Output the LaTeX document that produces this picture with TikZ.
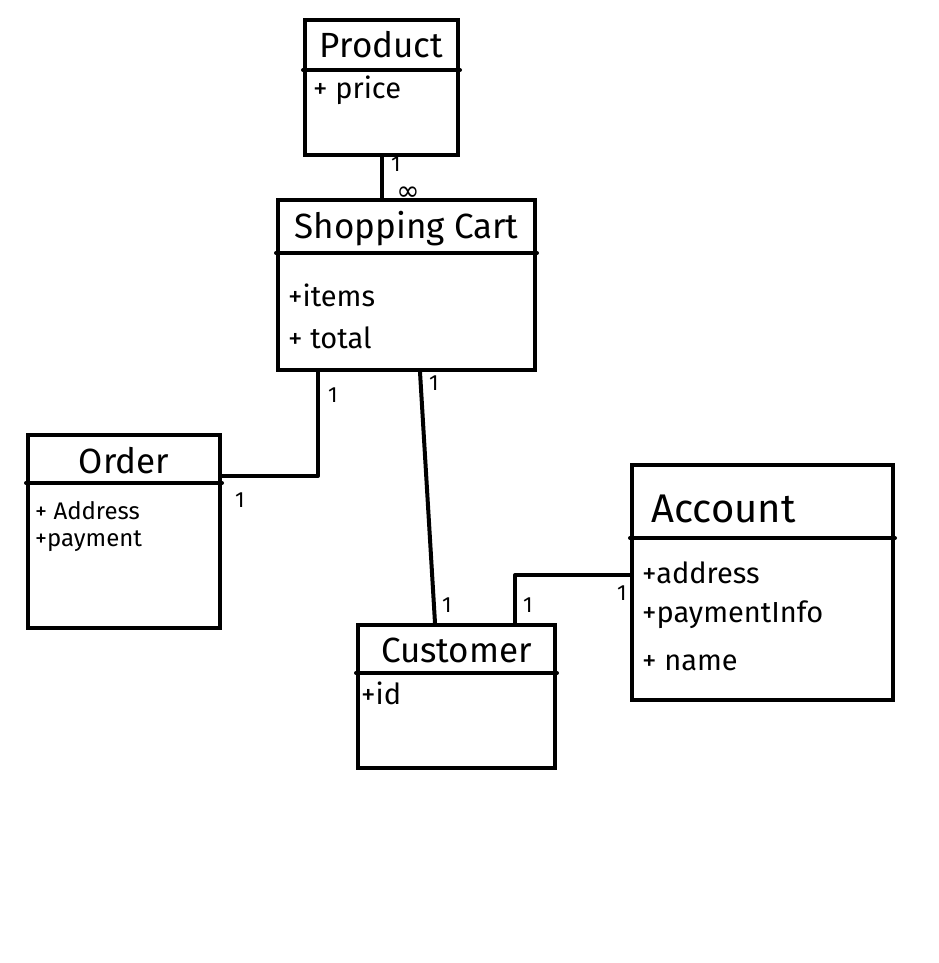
\documentclass[tikz,border=0pt]{standalone}
\usepackage{fontspec}
\setmainfont{Fira Sans}
\newfontfamily\symfont{DejaVu Sans}
\begin{document}
\begin{tikzpicture}[x=1pt,y=-1pt,
    classbox/.style={draw, line width=4pt, inner sep=0pt},
    classtitle/.style={font=\fontsize{35}{40}\selectfont},
    attr/.style={font=\fontsize{29}{33}\selectfont, anchor=west, inner sep=0pt},
    mult/.style={font=\fontsize{22}{26}\selectfont, inner sep=1pt},
    link/.style={line width=4pt, line cap=round, line join=round}]
  \useasboundingbox (0,0) rectangle (938,963);
  % classes
  \node[classbox, minimum width=153, minimum height=135] (product) at (381.5,87.5) {};
  \node[classbox, minimum width=257, minimum height=170] (cart) at (406.5,285) {};
  \node[classbox, minimum width=192, minimum height=193] (order) at (124,531.5) {};
  \node[classbox, minimum width=197, minimum height=143] (customer) at (456.5,696.5) {};
  \node[classbox, minimum width=261, minimum height=235] (account) at (762.5,582.5) {};
  % header lines
  \draw[link] ([yshift=-52pt]product.north west) -- ([yshift=-52pt]product.north east);
  \draw[link] ([yshift=-55pt]cart.north west) -- ([yshift=-55pt]cart.north east);
  \draw[link] ([yshift=-50pt]order.north west) -- ([yshift=-50pt]order.north east);
  \draw[link] ([yshift=-50pt]customer.north west) -- ([yshift=-50pt]customer.north east);
  \draw[link] ([yshift=-75pt]account.north west) -- ([yshift=-75pt]account.north east);
  % names
  \node[classtitle] (producttitle) at ([yshift=-27pt]product.north) {Product};
  \node[classtitle] (carttitle) at ([yshift=-31pt]cart.north) {Shopping Cart};
  \node[classtitle] (ordertitle) at ([yshift=-28pt]order.north) {Order};
  \node[classtitle] (customertitle) at ([yshift=-27pt]customer.north) {Customer};
  \node[classtitle, font=\fontsize{40}{44}\selectfont, anchor=west] (accounttitle)
    at ([xshift=18pt,yshift=-46pt]account.north west) {Account};
  % attributes
  \node[attr] (price) at ([xshift=10pt,yshift=-72pt]product.north west) {+ price};
  \node[attr] (items) at ([xshift=12pt,yshift=-97pt]cart.north west) {+items};
  \node[attr] (total) at ([xshift=12pt,yshift=-140pt]cart.north west) {+ total};
  \node[attr, font=\fontsize{24}{28}\selectfont] (address) at ([xshift=9pt,yshift=-78pt]order.north west) {+ Address};
  \node[attr, font=\fontsize{24}{28}\selectfont] (payment) at ([xshift=9pt,yshift=-108pt]order.north west) {+payment};
  \node[attr] (id) at ([xshift=5pt,yshift=-70pt]customer.north west) {+id};
  \node[attr] (accaddress) at ([xshift=12pt,yshift=-110pt]account.north west) {+address};
  \node[attr] (paymentinfo) at ([xshift=12pt,yshift=-152pt]account.north west) {+paymentInfo};
  \node[attr] (name) at ([xshift=12pt,yshift=-200pt]account.north west) {+ name};
  % associations
  \draw[link] (product.south) -- (product.south |- cart.north);
  \draw[link] ([xshift=42pt]cart.south west) |- ([yshift=-43pt]order.north east);
  \draw[link] ([xshift=13.5pt]cart.south) -- ([xshift=-21.5pt]customer.north);
  \draw[link] ([xshift=58.5pt]customer.north) |- ([yshift=7.5pt]account.west);
  % multiplicities
  \node[mult] (m1) at (396,164) {1};
  \node[mult, inner sep=0pt, font=\symfont\fontsize{28}{30}\selectfont] (m2) at (408,194) {∞};
  \node[mult] (m3) at (333,395) {1};
  \node[mult] (m4) at (240,500) {1};
  \node[mult] (m5) at (434,383) {1};
  \node[mult] (m6) at (447,605) {1};
  \node[mult] (m7) at (528,605) {1};
  \node[mult] (m8) at (622,593) {1};
\end{tikzpicture}
\end{document}
